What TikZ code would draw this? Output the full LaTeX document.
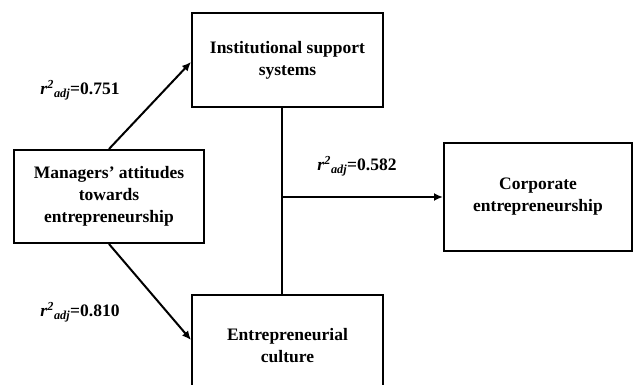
\documentclass[tikz,border=0pt]{standalone}
\usepackage{fontspec}
\setmainfont{Liberation Serif}
\usetikzlibrary{arrows.meta}
\newcommand{\radj}[1]{\textit{r}\textsuperscript{\textit{2}}\textsubscript{\textit{adj}}=#1}
\begin{document}
\begin{tikzpicture}[x=1pt,y=-1pt,
			box/.style = {draw, line width=2pt, align=center, inner sep=0pt,
				font=\bfseries\fontsize{17.5}{22}\selectfont},
			lab/.style = {font=\bfseries\fontsize{17.5}{22}\selectfont, inner sep=0pt},
			arr/.style = {line width=2pt, -{Latex[length=9pt,width=8pt]}}]
			\useasboundingbox (0,0) rectangle (633,385);
			
			\node[box, minimum width=190pt, minimum height=93pt] (mgr) at (109,196.5)
				{Managers' attitudes\\towards\\entrepreneurship};
			\node[box, minimum width=191pt, minimum height=94pt] (isp) at (287.5,60)
				{Institutional support\\systems};
			\node[box, minimum width=191pt, minimum height=102pt] (cul) at (287.5,346)
				{Entrepreneurial\\culture};
			\node[box, minimum width=188pt, minimum height=108pt] (ce) at (538,197)
				{Corporate\\entrepreneurship};
			
			\node[lab] (l1) at (80,90) {\radj{0.751}};
			\node[lab] (l2) at (80,312) {\radj{0.810}};
			\node[lab] (l3) at (357,166) {\radj{0.582}};
			
			\draw[arr] (mgr.north) -- ([yshift=-2pt]isp.west);
			\draw[arr] (mgr.south) -- ([yshift=6pt]cul.west);
			\draw[line width=2pt] ([xshift=-5.5pt]isp.south) -- ([xshift=-5.5pt]cul.north);
			\coordinate (jn) at ([xshift=-5.5pt]isp.south |- ce.west);
			\draw[arr] (jn) -- (ce.west);
			\end{tikzpicture}
\end{document}
